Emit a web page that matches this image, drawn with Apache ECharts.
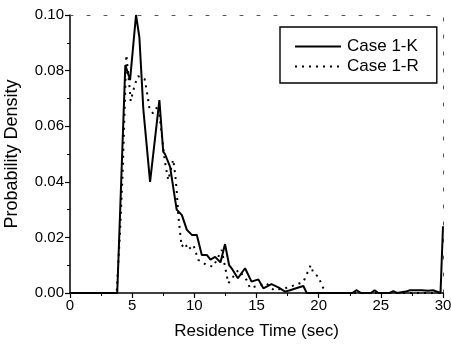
<!DOCTYPE html>
<html>
<head>
<meta charset="utf-8">
<script src="https://cdn.jsdelivr.net/npm/echarts@6/dist/echarts.min.js"></script>
<style>html,body{margin:0;padding:0;background:#fff;}#c{width:451px;height:347px;}</style>
</head>
<body>
<div id="c"></div>
<script>
const kTime = [0, 3.8, 4.45, 4.83, 5.31, 5.58, 5.9, 6.44, 7.19, 7.5, 7.64, 8.05, 8.58, 9.0, 9.4, 9.8, 10.2, 10.6, 11.0, 11.3, 11.67, 12.1, 12.47, 12.8, 13.0, 13.5, 14.08, 14.6, 15.15, 15.55, 16.2, 16.76, 17.3, 17.7, 18.37, 18.77, 19.04, 22.7, 23.06, 23.4, 24.2, 24.5, 24.8, 25.7, 26.0, 26.3, 27.0, 27.35, 28.3, 28.8, 29.2, 29.8, 30];
const kDensity = [0, 0, 0.082, 0.0766, 0.100, 0.092, 0.066, 0.040, 0.0694, 0.0508, 0.050, 0.0454, 0.030, 0.028, 0.0227, 0.0209, 0.0209, 0.0137, 0.0137, 0.012, 0.013, 0.011, 0.0176, 0.010, 0.0089, 0.0053, 0.0089, 0.0041, 0.0049, 0.0017, 0.0032, 0.002, 0.0005, 0.001, 0.002, 0.0025, 0, 0, 0.001, 0, 0, 0.001, 0, 0, 0.0007, 0, 0.0005, 0.001, 0.001, 0.0008, 0.001, 0, 0.024];
const rTime = [0, 3.75, 4.02, 4.24, 4.53, 4.8, 4.88, 5.2, 5.47, 6.0, 6.2, 6.4, 6.68, 7.1, 7.35, 7.64, 7.9, 8.3, 8.45, 8.58, 8.72, 8.85, 8.98, 9.25, 9.5, 9.92, 10.32, 11.0, 11.53, 12.2, 12.47, 12.73, 13.54, 14.2, 14.48, 15.8, 16.4, 17.56, 18.77, 19.36, 19.58, 19.98, 20.3, 20.6, 30];
const rDensity = [0, 0, 0.0216, 0.044, 0.0856, 0.0736, 0.069, 0.0748, 0.078, 0.077, 0.072, 0.066, 0.0646, 0.0676, 0.058, 0.047, 0.0406, 0.048, 0.043, 0.037, 0.0274, 0.022, 0.0167, 0.018, 0.0155, 0.0173, 0.0119, 0.010, 0.0095, 0.0155, 0.0095, 0.0035, 0.0083, 0.0047, 0.0018, 0.0035, 0.001, 0.002, 0.004, 0.010, 0.0071, 0.0059, 0.0023, 0, 0];
const xTicks = [0, 5, 10, 15, 20, 25, 30];
const yTicks = [0.00, 0.02, 0.04, 0.06, 0.08, 0.10];

const font = 'Liberation Sans, Arial, sans-serif';
const chart = echarts.init(document.getElementById('c'));
chart.setOption({
  animation: false,
  backgroundColor: '#fff',
  grid: { left: 70, right: 8, top: 15, bottom: 54, containLabel: false, outerBoundsMode: 'none' },
  legend: {
    orient: 'vertical', left: 280, top: 27,
    itemWidth: 46, itemHeight: 14, itemGap: 3,
    padding: [11, 18, 8, 14],
    borderColor: '#000', borderWidth: 1.4, borderRadius: 0,
    itemStyle: { opacity: 0 },
    textStyle: { fontFamily: font, fontSize: 17, color: '#000', padding: [0, 0, 0, 1] },
    data: ['Case 1-K', 'Case 1-R']
  },
  xAxis: [{
    type: 'value', min: xTicks[0], max: xTicks[xTicks.length - 1], interval: 5,
    name: 'Residence Time (sec)', nameLocation: 'middle', nameGap: 30,
    nameTextStyle: { fontFamily: font, fontSize: 17, color: '#000' },
    axisLine: { show: true, onZero: false, lineStyle: { color: '#000', width: 1.5 } },
    axisTick: { show: true, inside: false, length: 5, lineStyle: { color: '#000', width: 1.2 } },
    minorTick: { show: true, splitNumber: 2, length: 3, lineStyle: { color: '#000', width: 1 } },
    axisLabel: { fontFamily: font, fontSize: 15, color: '#000', margin: 5 },
    splitLine: { show: false }
  }, {
    type: 'value', position: 'top', min: 0, max: 30,
    axisLine: { show: true, onZero: false, lineStyle: { color: '#555', width: 1, type: [3, 14] } },
    axisTick: { show: false }, axisLabel: { show: false }, splitLine: { show: false }
  }],
  yAxis: [{
    type: 'value', min: yTicks[0], max: yTicks[yTicks.length - 1], interval: 0.02,
    name: 'Probability Density', nameLocation: 'middle', nameGap: 49, nameRotate: 90,
    nameTextStyle: { fontFamily: font, fontSize: 18, color: '#000' },
    axisLine: { show: true, onZero: false, lineStyle: { color: '#000', width: 1.5 } },
    axisTick: { show: true, inside: false, length: 5, lineStyle: { color: '#000', width: 1.2 } },
    minorTick: { show: true, splitNumber: 2, length: 3, lineStyle: { color: '#000', width: 1 } },
    axisLabel: { fontFamily: font, fontSize: 15, color: '#000', margin: 6, formatter: v => v.toFixed(2) },
    splitLine: { show: false }
  }, {
    type: 'value', position: 'right', min: 0, max: 0.1,
    axisLine: { show: true, onZero: false, lineStyle: { color: '#555', width: 1, type: [3, 14] } },
    axisTick: { show: false }, axisLabel: { show: false }, splitLine: { show: false }
  }],
  series: [{
    name: 'Case 1-K', type: 'line', symbol: 'none',
    data: kTime.map((t, i) => [t, kDensity[i]]),
    lineStyle: { color: '#000', width: 2 },
    itemStyle: { color: '#000' }
  }, {
    name: 'Case 1-R', type: 'line', symbol: 'none',
    data: rTime.map((t, i) => [t, rDensity[i]]),
    lineStyle: { color: '#000', width: 2, type: [2, 5] },
    itemStyle: { color: '#000' }
  }]
});
</script>
</body>
</html>
